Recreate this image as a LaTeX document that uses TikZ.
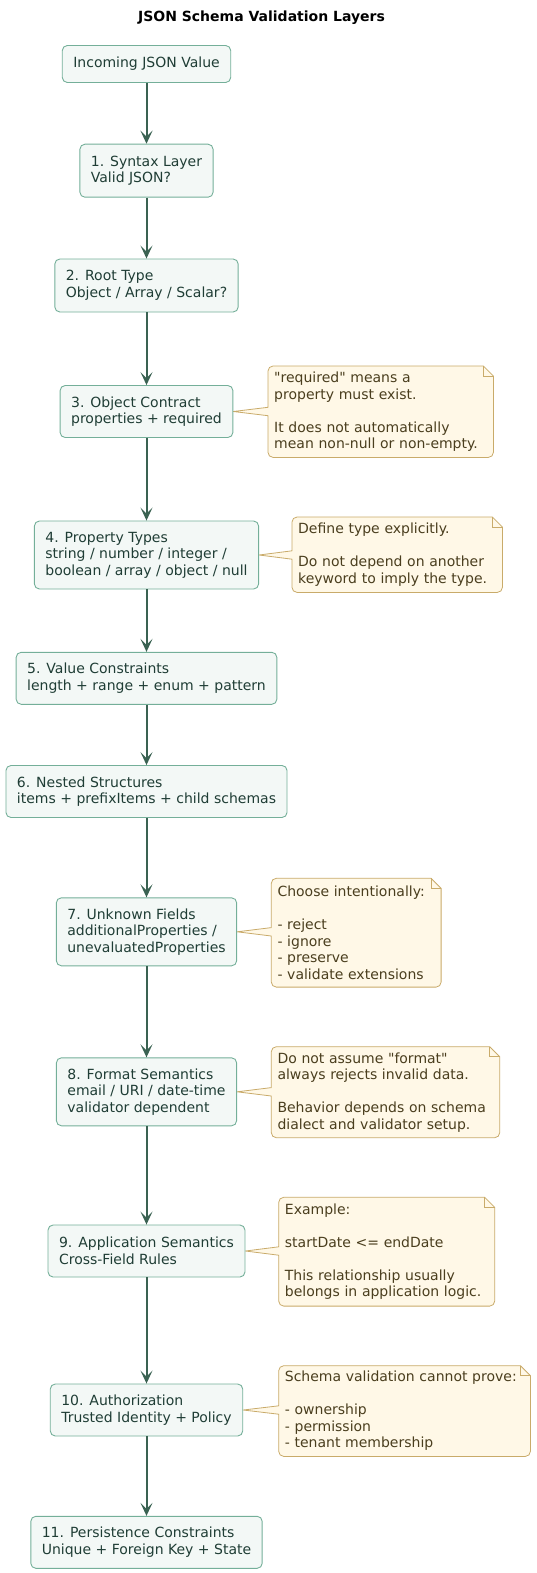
\documentclass[tikz,border=0pt]{standalone}
\usepackage{fontspec}
\setmainfont{DejaVu Sans}[Ligatures=TeXOff]
\usetikzlibrary{arrows.meta,calc,backgrounds}
\definecolor{boxfill}{HTML}{F3F8F6}
\definecolor{boxborder}{HTML}{74AF99}
\definecolor{boxtext}{HTML}{1F3D35}
\definecolor{flowcol}{HTML}{3A6252}
\definecolor{notefill}{HTML}{FFF8E7}
\definecolor{noteborder}{HTML}{C9AB6A}
\definecolor{notetext}{HTML}{4A3E1E}
\newcommand\notecallout[2]{%
  \begin{pgfonlayer}{background}
  \draw[noteline] let \p1=(#1.north west), \p2=(#1.south east), \p3=(#2.east) in
    (\x1,\y3+4.2pt) -- (\x1,\y1-5pt) arc[start angle=180,end angle=90,radius=5pt]
    -- (\x2-10pt,\y1) -- (\x2,\y1-10pt) -- (\x2,\y2+5pt)
    arc[start angle=0,end angle=-90,radius=5pt] -- (\x1+5pt,\y2)
    arc[start angle=270,end angle=180,radius=5pt] -- (\x1,\y3-4.2pt)
    -- (\x3,\y3) -- cycle;
  \draw[noteline, fill=none] let \p1=(#1.north west), \p2=(#1.south east) in
    (\x2-10pt,\y1) -- (\x2-10pt,\y1-10pt) -- (\x2,\y1-10pt);
  \end{pgfonlayer}}
\tikzset{
  stage/.style={draw=boxborder, fill=boxfill, line width=0.9pt, rounded corners=5pt,
    text=boxtext, align=left, inner xsep=11pt, inner ysep=0pt, anchor=center,
    font=\fontsize{14pt}{16.5pt}\selectfont},
  notetxt/.style={draw=none, fill=none, text=notetext, align=left, anchor=north west,
    inner xsep=6pt, inner ysep=0pt, font=\fontsize{14pt}{16.5pt}\selectfont},
  noteline/.style={draw=noteborder, fill=notefill, line width=0.8pt, line join=miter},
  flow/.style={draw=flowcol, line width=2pt,
    -{Stealth[length=13pt,width=12pt,inset=6pt]}},
  titletxt/.style={font=\bfseries\fontsize{14pt}{16.5pt}\selectfont, text=black}
}
\begin{document}
\begin{tikzpicture}[x=1pt,y=-1pt]
\useasboundingbox (0,0) rectangle (536,1573);
\node[titletxt] (title) at (261.5,18) {JSON Schema Validation Layers};

\node[stage, minimum width=167pt, minimum height=37pt] (n0) at (146.5,64) {Incoming JSON Value};
\node[stage, minimum width=130pt, minimum height=53pt] (n1) at (146.5,170.7) {1. Syntax Layer\\Valid JSON?};
\node[stage, minimum width=181pt, minimum height=53pt] (n2) at (146.5,285.5) {2. Root Type\\Object / Array / Scalar?};
\node[stage, minimum width=172pt, minimum height=52pt] (n3) at (146.5,411.5) {3. Object Contract\\properties + required};
\node[stage, minimum width=222pt, minimum height=68pt] (n4) at (146.5,555) {4. Property Types\\string / number / integer /\\boolean / array / object / null};
\node[stage, minimum width=258pt, minimum height=52pt] (n5) at (146.5,678.3) {5. Value Constraints\\length + range + enum + pattern};
\node[stage, minimum width=279pt, minimum height=52pt] (n6) at (146.5,791.5) {6. Nested Structures\\items + prefixItems + child schemas};
\node[stage, minimum width=178pt, minimum height=68pt] (n7) at (146.5,931.8) {7. Unknown Fields\\additionalProperties /\\unevaluatedProperties};
\node[stage, minimum width=178pt, minimum height=68pt] (n8) at (146.5,1091.8) {8. Format Semantics\\email / URI / date-time\\validator dependent};
\node[stage, minimum width=193pt, minimum height=52pt] (n9) at (146.5,1251) {9. Application Semantics\\Cross-Field Rules};
\node[stage, minimum width=192pt, minimum height=52pt] (n10) at (146.5,1410) {10. Authorization\\Trusted Identity + Policy};
\node[stage, minimum width=230pt, minimum height=52pt] (n11) at (146.5,1542.3) {11. Persistence Constraints\\Unique + Foreign Key + State};

\foreach \a/\b in {n0/n1,n1/n2,n2/n3,n3/n4,n4/n5,n5/n6,n6/n7,n7/n8,n8/n9,n9/n10,n10/n11}
  \draw[flow] (\a.south) -- (\b.north);

\node[notetxt, text width=213pt, minimum height=91pt] (m3) at (268,366)
  {"required" means a\\property must exist.\\\mbox{}\\It does not automatically\\mean non-null or non-empty.};
\node[notetxt, text width=198pt, minimum height=75pt] (m4) at (292,517)
  {Define type explicitly.\\\mbox{}\\Do not depend on another\\keyword to imply the type.};
\node[notetxt, text width=157.4pt, minimum height=108.4pt] (m7) at (271.3,878.3)
  {Choose intentionally:\\\mbox{}\\- reject\\- ignore\\- preserve\\- validate extensions};
\node[notetxt, text width=216pt, minimum height=90.6pt] (m8) at (271.3,1046.7)
  {Do not assume "format"\\always rejects invalid data.\\\mbox{}\\Behavior depends on schema\\dialect and validator setup.};
\node[notetxt, text width=203.6pt, minimum height=108.4pt] (m9) at (278.7,1197.3)
  {Example:\\\mbox{}\\startDate <= endDate\\\mbox{}\\This relationship usually\\belongs in application logic.};
\node[notetxt, text width=239.3pt, minimum height=90.3pt] (m10) at (278.7,1365.7)
  {Schema validation cannot prove:\\\mbox{}\\- ownership\\- permission\\- tenant membership};

\notecallout{m3}{n3}
\notecallout{m4}{n4}
\notecallout{m7}{n7}
\notecallout{m8}{n8}
\notecallout{m9}{n9}
\notecallout{m10}{n10}
\end{tikzpicture}
\end{document}
